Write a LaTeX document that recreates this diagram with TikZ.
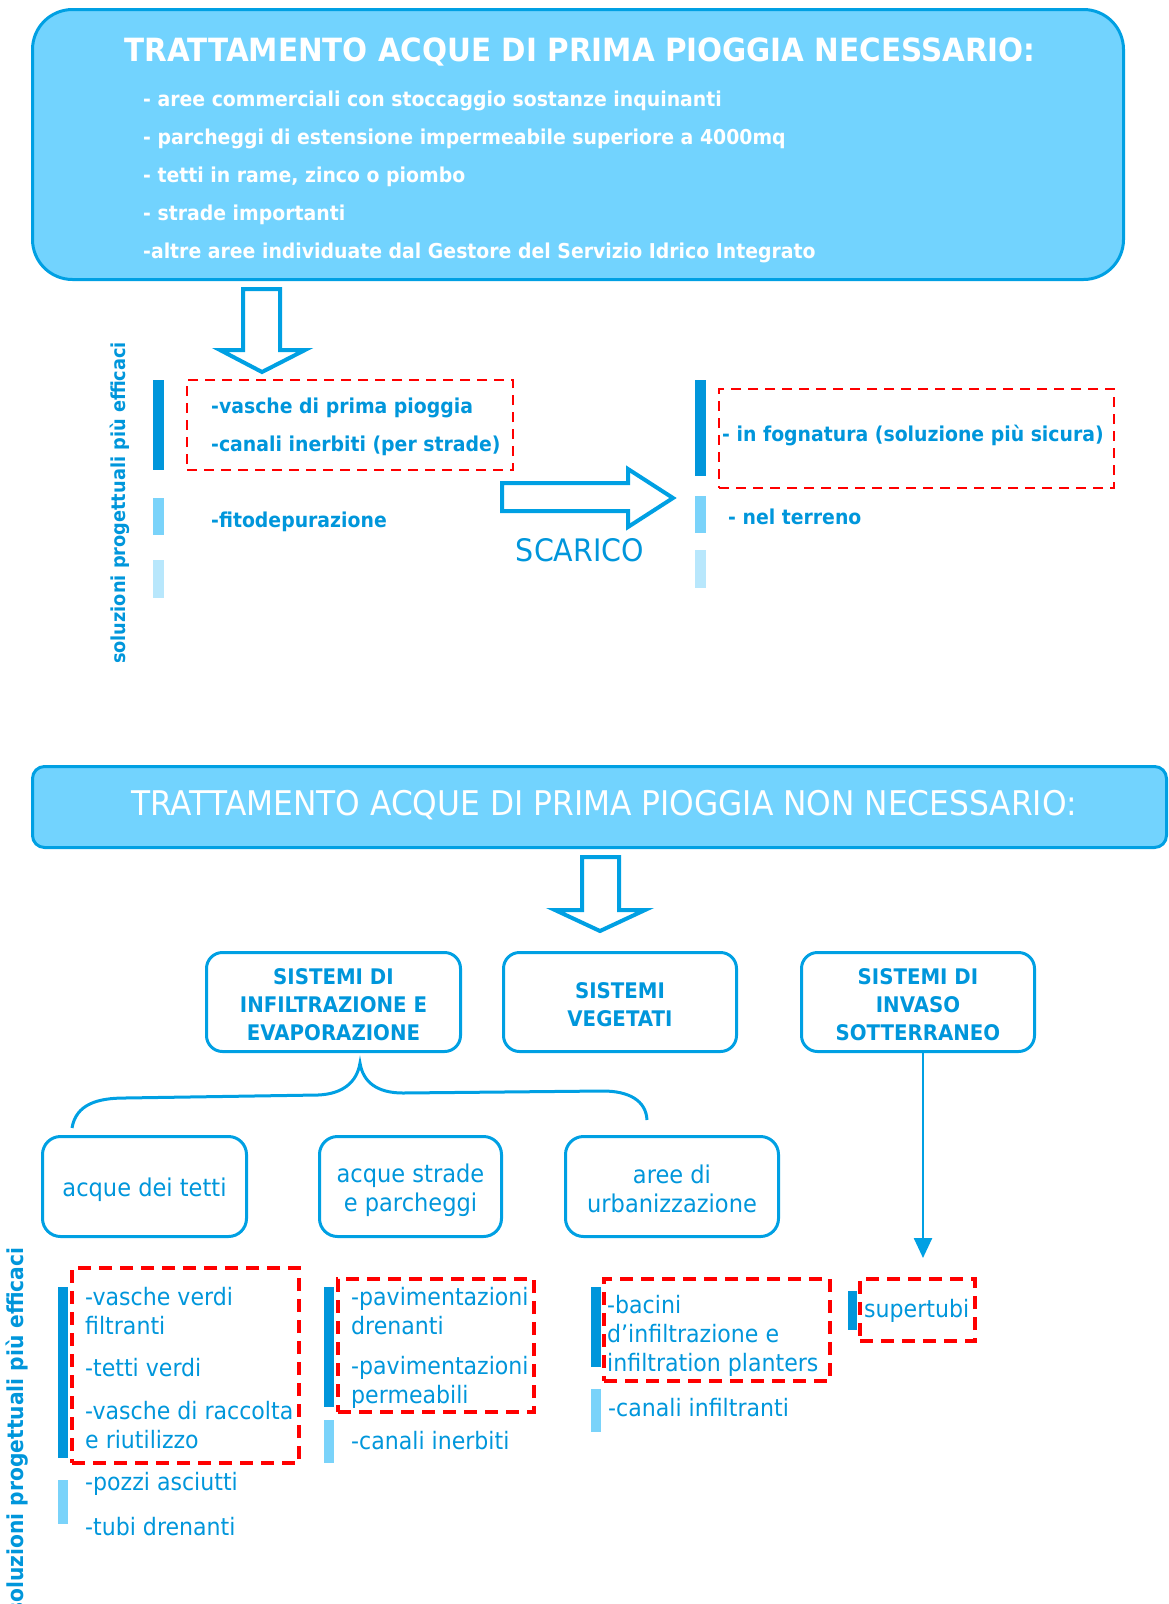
\documentclass[tikz,border=0pt]{standalone}
\usepackage{fontspec}
\setmainfont{DejaVu Sans}[FakeStretch=0.92]
\usetikzlibrary{arrows.meta}
\definecolor{sky}{RGB}{114,211,254}
\definecolor{edge}{RGB}{0,160,227}
\definecolor{tblue}{RGB}{0,150,219}
\definecolor{barA}{RGB}{0,150,219}
\definecolor{barB}{RGB}{122,211,250}
\definecolor{barC}{RGB}{184,231,252}
\begin{document}
\begin{tikzpicture}[x=1pt,y=-1pt,
  bigbox/.style={draw=edge, fill=sky, line width=3pt, inner sep=0pt},
  sysbox/.style={draw=edge, line width=3pt, rounded corners=16pt, inner sep=0pt, text=tblue, align=center},
  blockarrow/.style={draw=edge, fill=white, line width=4pt, line join=miter},
  reddashA/.style={draw=red, line width=2pt, dash pattern=on 10pt off 7pt, inner sep=0pt},
  reddashB/.style={draw=red, line width=3.5pt, dash pattern=on 13pt off 8pt, inner sep=0pt},
  whitetitle/.style={text=white, inner sep=0pt, font=\bfseries\fontsize{32}{36}\selectfont},
  whitebul/.style={text=white, inner sep=0pt, anchor=west, font=\bfseries\fontsize{20.5}{24}\selectfont},
  upitem/.style={text=tblue, inner sep=0pt, anchor=west, font=\bfseries\fontsize{20.5}{24}\selectfont},
  lowitem/.style={text=tblue, inner sep=0pt, anchor=west, align=left, font=\fontsize{24}{29}\selectfont},
  vlabel/.style={text=tblue, inner sep=0pt, rotate=90, font=\bfseries},
  systext/.style={text=tblue, inner sep=0pt, align=center, font=\bfseries\fontsize{21.5}{28}\selectfont},
  cattext/.style={text=tblue, inner sep=0pt, align=center, font=\fontsize{24.5}{29}\selectfont},
]
\useasboundingbox (0,0) rectangle (1168,1604);

% ---------- top box ----------
\node[bigbox, rounded corners=40pt, minimum width=1091pt, minimum height=270pt] (topbox) at (578,144.5) {};
\node[whitetitle] (toptitle) at (580,52) {TRATTAMENTO ACQUE DI PRIMA PIOGGIA NECESSARIO:};
\node[whitebul] (b1) at (143,101) {- aree commerciali con stoccaggio sostanze inquinanti};
\node[whitebul] (b2) at (143,139) {- parcheggi di estensione impermeabile superiore a 4000mq};
\node[whitebul] (b3) at (143,177) {- tetti in rame, zinco o piombo};
\node[whitebul] (b4) at (143,215) {- strade importanti};
\node[whitebul] (b5) at (143,253) {-altre aree individuate dal Gestore del Servizio Idrico Integrato};

% down arrow 1
\draw[blockarrow] (243,289) -- (280,289) -- (280,350) -- (305,350) -- (262,372) -- (220,350) -- (243,350) -- cycle;

% vertical label upper
\node[vlabel, font=\bfseries\fontsize{19.3}{23}\selectfont] (vl1) at (120,503) {soluzioni progettuali più efficaci};

% upper left bars
\fill[barA] (153,380) rectangle (164,470);
\fill[barB] (153,498) rectangle (164,535);
\fill[barC] (153,560) rectangle (164,598);

\node[reddashA, minimum width=326pt, minimum height=90pt] (redA) at (350,425) {};
\node[upitem] (u1) at (211,408) {-vasche di prima pioggia};
\node[upitem] (u2) at (211,446) {-canali inerbiti (per strade)};
\node[upitem] (u3) at (211,522) {-fitodepurazione};

% right block arrow
\draw[blockarrow] (502,483) -- (628,483) -- (628,469) -- (673,498) -- (628,527) -- (628,511) -- (502,511) -- cycle;
\node[text=tblue, inner sep=0pt, font=\fontsize{31}{34}\selectfont] (scarico) at (580,550) {SCARICO};

% upper right bars
\fill[barA] (695,380) rectangle (706,476);
\fill[barB] (695,496) rectangle (706,533);
\fill[barC] (695,550) rectangle (706,588);

\node[reddashA, minimum width=395pt, minimum height=99pt] (redB) at (916.5,438.5) {};
\node[upitem] (r1) at (722,436) {- in fognatura (soluzione più sicura)};
\node[upitem] (r2) at (728,517) {- nel terreno};

% ---------- second box ----------
\node[bigbox, rounded corners=12pt, minimum width=1134pt, minimum height=81pt] (midbox) at (599.5,807) {};
\node[text=white, inner sep=0pt, font=\fontsize{34}{38}\selectfont] (midtitle) at (604,805) {TRATTAMENTO ACQUE DI PRIMA PIOGGIA NON NECESSARIO:};

% down arrow 2
\draw[blockarrow] (582,857) -- (619,857) -- (619,910) -- (645,910) -- (600,931) -- (555,910) -- (582,910) -- cycle;

% system boxes
\node[sysbox, minimum width=254pt, minimum height=99pt] (sysA) at (333.5,1002) {};
\node[systext] (sysAt) at (333.5,1005) {SISTEMI DI\\INFILTRAZIONE E\\EVAPORAZIONE};
\node[sysbox, minimum width=233pt, minimum height=99pt] (sysB) at (620,1002) {};
\node[systext] (sysBt) at (620,1005) {SISTEMI\\VEGETATI};
\node[sysbox, minimum width=233pt, minimum height=99pt] (sysC) at (918,1002) {};
\node[systext] (sysCt) at (918,1005) {SISTEMI DI\\INVASO\\SOTTERRANEO};

% brace
\coordinate (cusp) at (360,1063);
\draw[edge, line width=3pt] (72,1128) .. controls (76,1104) and (98,1098) .. (125,1098) -- (318,1095) .. controls (343,1094) and (357,1082) .. (cusp) .. controls (363,1082) and (377,1093) .. (403,1093) -- (603,1091) .. controls (628,1091) and (646,1100) .. (647,1120);

% category boxes
\node[sysbox, rounded corners=18pt, minimum width=204pt, minimum height=100pt] (catA) at (144.5,1186.5) {};
\node[cattext] (catAt) at (144.5,1190) {acque dei tetti};
\node[sysbox, rounded corners=18pt, minimum width=182pt, minimum height=100pt] (catB) at (410.5,1186.5) {};
\node[cattext] (catBt) at (410.5,1190) {acque strade\\e parcheggi};
\node[sysbox, rounded corners=18pt, minimum width=213pt, minimum height=100pt] (catC) at (672,1186.5) {};
\node[cattext] (catCt) at (672,1189) {aree di\\urbanizzazione};

% arrow to supertubi
\coordinate (arrend) at (923,1258);
\draw[edge, line width=2.5pt, -{Triangle[length=20pt,width=18pt]}] (sysC.south -| arrend) -- (arrend);

% vertical label lower
\node[vlabel, font=\bfseries\fontsize{22}{26}\selectfont] (vl2) at (17,1431) {soluzioni progettuali più efficaci};

% group 1
\fill[barA] (58,1287) rectangle (68,1458);
\fill[barB] (58,1480) rectangle (68,1524);
\node[reddashB, minimum width=227pt, minimum height=195pt] (redC) at (185.5,1365.5) {};
\node[lowitem] (g1a) at (85,1311.5) {-vasche verdi\\filtranti};
\node[lowitem] (g1b) at (85,1368) {-tetti verdi};
\node[lowitem] (g1c) at (85,1425.5) {-vasche di raccolta\\e riutilizzo};
\node[lowitem] (g1d) at (85,1484) {-pozzi asciutti};
\node[lowitem] (g1e) at (85,1527) {-tubi drenanti};

% group 2
\fill[barA] (324,1287) rectangle (334,1407);
\fill[barB] (324,1420) rectangle (334,1463);
\node[reddashB, minimum width=196pt, minimum height=133pt] (redD) at (436,1345.5) {};
\node[lowitem] (g2a) at (351,1311.5) {-pavimentazioni\\drenanti};
\node[lowitem] (g2b) at (351,1382) {-pavimentazioni\\permeabili};
\node[lowitem] (g2c) at (351,1441) {-canali inerbiti};

% group 3
\fill[barA] (591,1287) rectangle (601,1367);
\fill[barB] (591,1389) rectangle (601,1432);
\node[reddashB, minimum width=226pt, minimum height=102pt] (redE) at (717,1330) {};
\node[lowitem] (g3a) at (607,1335.5) {-bacini\\d’infiltrazione e\\infiltration planters};
\node[lowitem] (g3b) at (608,1408) {-canali infiltranti};

% group 4
\fill[barA] (848,1291) rectangle (857,1330);
\node[reddashB, minimum width=115pt, minimum height=62pt] (redF) at (917.5,1310) {};
\node[lowitem] (g4a) at (864,1311) {supertubi};
\end{tikzpicture}
\end{document}
